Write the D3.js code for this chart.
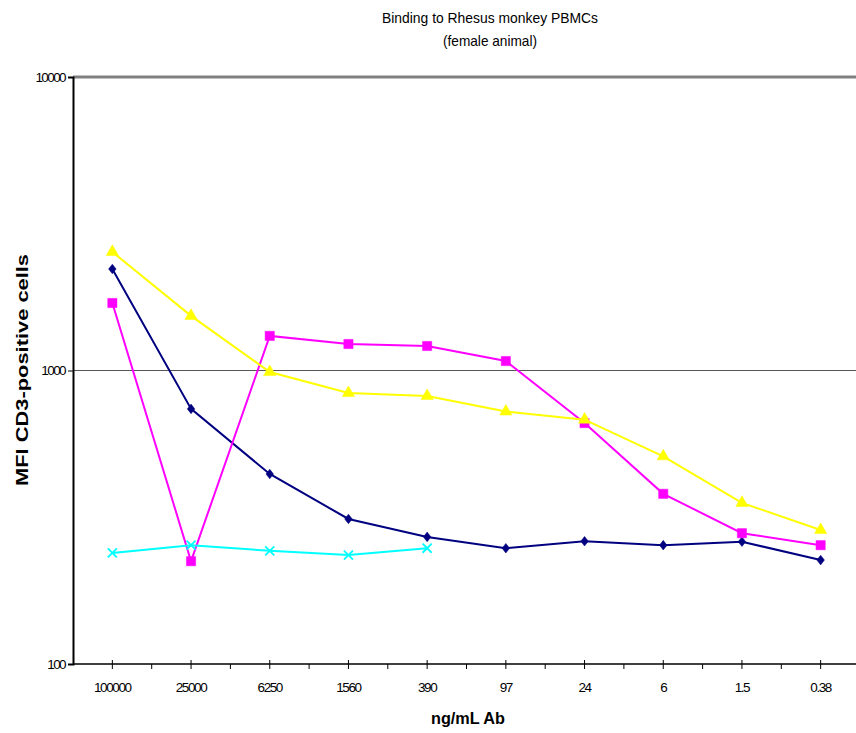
<!DOCTYPE html>
<html>
<head>
<meta charset="utf-8">
<script src="https://cdn.jsdelivr.net/npm/d3@7"></script>
<style>
  body { margin: 0; background: #fff; }
  svg { display: block; font-family: "Liberation Sans", Arial, sans-serif; }
</style>
</head>
<body>
<div id="chart"></div>
<script>
// concentrations (ng/mL Ab)
const concentrations = ["100000", "25000", "6250", "1560", "390", "97", "24", "6", "1.5", "0.38"];

// MFI of CD3-positive cells per series
const seriesNavy = [2218, 740, 444, 312, 271, 248, 262, 254, 261, 226];
const seriesMagenta = [1698, 224, 1312, 1231, 1212, 1077, 662, 380, 279, 254];
const seriesYellow = [2535, 1535, 988, 838, 819, 725, 680, 510, 354, 286];
const seriesCyan = [239, 254, 243, 235, 248];

const yTicks = [100, 1000, 10000];

const series = [
  { values: seriesNavy, color: "#000080", symbol: "diamond" },
  { values: seriesMagenta, color: "#ff00ff", symbol: "square" },
  { values: seriesYellow, color: "#ffff00", symbol: "triangle" },
  { values: seriesCyan, color: "#00ffff", symbol: "cross" }
];

const W = 856, H = 733;
const svg = d3.select("#chart").append("svg")
  .attr("width", W).attr("height", H);

const x = d3.scaleBand().domain(concentrations).range([73, 860]);
const y = d3.scaleLog().domain([100, 10000]).range([664, 77]);
const cx = d => x(d) + x.bandwidth() / 2;

// title
svg.append("text").attr("x", 490).attr("y", 23)
  .attr("text-anchor", "middle").style("font-size", "15px")
  .attr("textLength", 216).attr("lengthAdjust", "spacingAndGlyphs")
  .text("Binding to Rhesus monkey PBMCs");
svg.append("text").attr("x", 490).attr("y", 46)
  .attr("text-anchor", "middle").style("font-size", "15px")
  .attr("textLength", 94).attr("lengthAdjust", "spacingAndGlyphs")
  .text("(female animal)");

// gridlines
svg.append("line").attr("x1", 73).attr("x2", W)
  .attr("y1", y(10000)).attr("y2", y(10000))
  .attr("stroke", "#808080").attr("stroke-width", 3);
svg.append("line").attr("x1", 73).attr("x2", W)
  .attr("y1", y(1000)).attr("y2", y(1000))
  .attr("stroke", "#555").attr("stroke-width", 1.2);

// y axis
const yAxis = svg.append("g").attr("transform", "translate(73,0)")
  .call(d3.axisLeft(y).tickValues(yTicks).tickSize(5).tickPadding(3)
    .tickFormat(d3.format("d")));
yAxis.select(".domain").attr("stroke", "#000").attr("stroke-width", 2);
yAxis.selectAll(".tick line").attr("stroke", "#000");
yAxis.selectAll(".tick text").style("font-size", "13.5px").style("letter-spacing", "-1.6px")
  .attr("fill", "#000");

// x axis
const xg = svg.append("g").attr("transform", "translate(0,664)");
xg.append("line").attr("x1", 73).attr("x2", W).attr("y1", 0).attr("y2", 0)
  .attr("stroke", "#000").attr("stroke-width", 1.5);
xg.selectAll(".major").data(concentrations).join("line")
  .attr("x1", cx).attr("x2", cx).attr("y1", -4).attr("y2", 5)
  .attr("stroke", "#000");
xg.selectAll(".minor").data(concentrations.slice(1)).join("line")
  .attr("x1", d => x(d)).attr("x2", d => x(d)).attr("y1", 0).attr("y2", 5)
  .attr("stroke", "#000");
xg.selectAll(".lbl").data(concentrations).join("text")
  .attr("x", cx).attr("y", 28).attr("text-anchor", "middle")
  .style("font-size", "13.5px").style("letter-spacing", "-1.4px")
  .text(d => d);

// axis titles
svg.append("text").attr("x", 468).attr("y", 724)
  .attr("text-anchor", "middle").style("font-size", "17px").style("font-weight", "bold")
  .attr("textLength", 74).attr("lengthAdjust", "spacingAndGlyphs")
  .text("ng/mL Ab");
svg.append("text")
  .attr("transform", "translate(28,370) rotate(-90)")
  .attr("text-anchor", "middle").style("font-size", "17px").style("font-weight", "bold")
  .attr("textLength", 232).attr("lengthAdjust", "spacingAndGlyphs")
  .text("MFI CD3-positive cells");

// series
const line = d3.line().x((d, i) => cx(concentrations[i])).y(d => y(d));
const wideDiamond = {
  draw(ctx, size) {
    const r = Math.sqrt(size) / 2;
    ctx.moveTo(0, -r * 1.15);
    ctx.lineTo(r * 0.9, 0);
    ctx.lineTo(0, r * 1.15);
    ctx.lineTo(-r * 0.9, 0);
    ctx.closePath();
  }
};
const symbols = {
  diamond: d3.symbol().type(wideDiamond).size(70),
  square: d3.symbol().type(d3.symbolSquare).size(85),
  triangle: d3.symbol().type(d3.symbolTriangle).size(65),
  cross: d3.symbol().type(d3.symbolX).size(55)
};

series.forEach(s => {
  const g = svg.append("g");
  g.append("path").datum(s.values).attr("d", line)
    .attr("fill", "none").attr("stroke", s.color).attr("stroke-width", 2);
  g.selectAll("path.m").data(s.values).join("path")
    .attr("class", "m")
    .attr("transform", (d, i) => `translate(${cx(concentrations[i])},${y(d)})`)
    .attr("d", symbols[s.symbol])
    .attr("fill", s.symbol === "cross" ? "none" : s.color)
    .attr("stroke", s.color)
    .attr("stroke-width", s.symbol === "cross" ? 1.8 : 0.5);
});
</script>
</body>
</html>
